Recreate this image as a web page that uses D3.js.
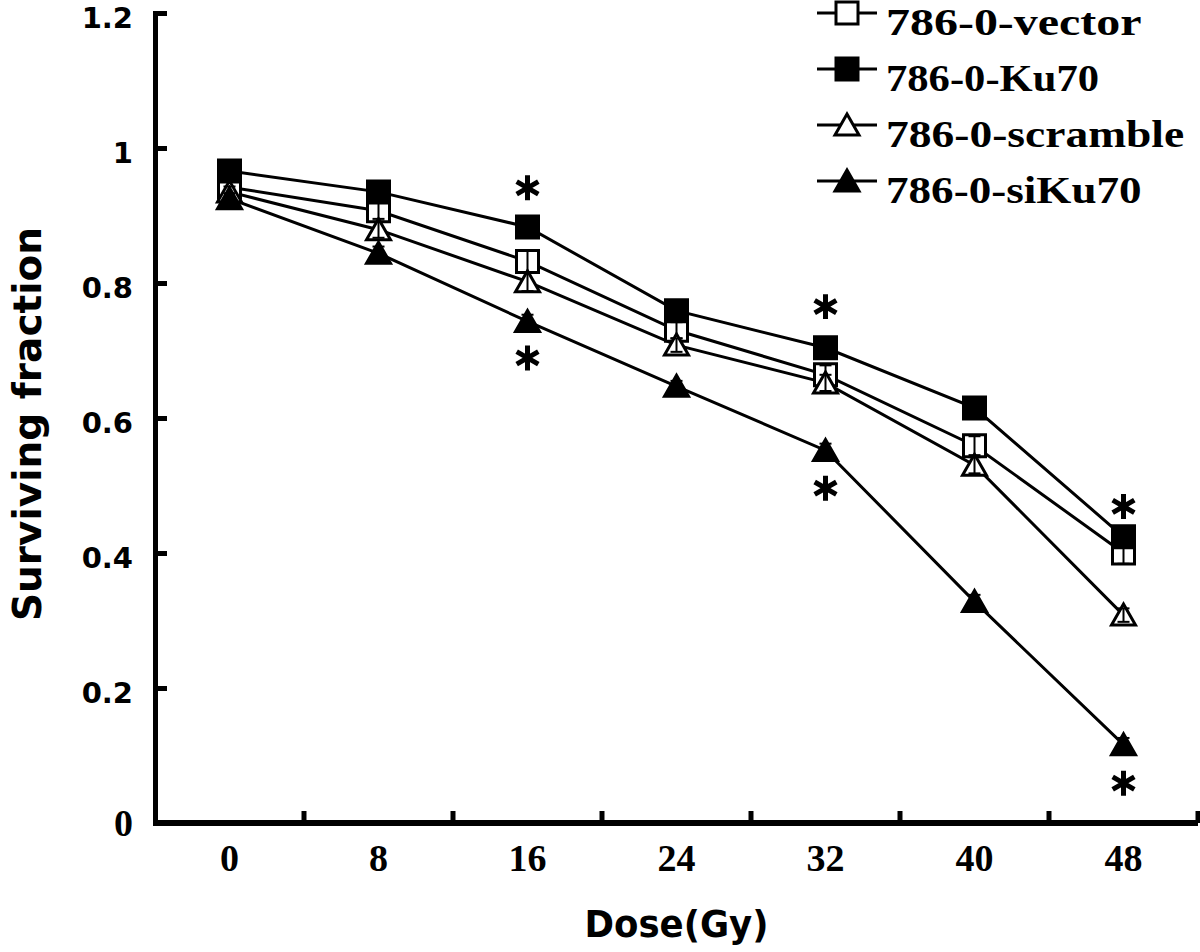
<!DOCTYPE html>
<html>
<head>
<meta charset="utf-8">
<script src="https://cdn.jsdelivr.net/npm/d3@7"></script>
<style>
  html, body { margin: 0; padding: 0; background: #fff; }
  svg { display: block; }
</style>
</head>
<body>
<svg id="chart" width="1200" height="952"></svg>
<script>
// ---------------- data ----------------
const doses = ["0", "8", "16", "24", "32", "40", "48"];
const seriesNames = ["786-0-vector", "786-0-Ku70", "786-0-scramble", "786-0-siKu70"];
const vectorValues   = [0.942, 0.907, 0.832, 0.730, 0.664, 0.559, 0.400];
const ku70Values     = [0.966, 0.935, 0.883, 0.759, 0.704, 0.615, 0.424];
const scrambleValues = [0.935, 0.879, 0.802, 0.708, 0.652, 0.530, 0.308];
const siKu70Values   = [0.925, 0.844, 0.743, 0.647, 0.552, 0.328, 0.116];
const vectorErrors   = [0.010, 0.012, 0.016, 0.012, 0.014, 0.014, 0.016];
const ku70Errors     = [0.008, 0.008, 0.010, 0.010, 0.010, 0.010, 0.012];
const scrambleErrors = [0.008, 0.012, 0.014, 0.010, 0.012, 0.012, 0.010];
const siKu70Errors   = [0.008, 0.010, 0.010, 0.008, 0.010, 0.010, 0.010];
const yTickValues = [0, 0.2, 0.4, 0.6, 0.8, 1, 1.2];
const yTickLabels = ["0", "0.2", "0.4", "0.6", "0.8", "1", "1.2"];
const asteriskDoses  = ["16", "16", "32", "32", "48", "48"];
const asteriskLevels = [0.941, 0.689, 0.765, 0.496, 0.469, 0.059];
const xTitle = "Dose(Gy)";
const yTitle = "Surviving fraction";

const seriesStyle = [
  { shape: "square",   filled: false },
  { shape: "square",   filled: true  },
  { shape: "triangle", filled: false },
  { shape: "triangle", filled: true  }
];
const seriesData = [
  { name: seriesNames[0], values: vectorValues,   errors: vectorErrors,   style: seriesStyle[0] },
  { name: seriesNames[1], values: ku70Values,     errors: ku70Errors,     style: seriesStyle[1] },
  { name: seriesNames[2], values: scrambleValues, errors: scrambleErrors, style: seriesStyle[2] },
  { name: seriesNames[3], values: siKu70Values,   errors: siKu70Errors,   style: seriesStyle[3] }
];

// ---------------- layout ----------------
const svg = d3.select("#chart");
const plotLeft = 155, plotRight = 1198, plotTop = 13, plotBottom = 823;

const x = d3.scaleBand().domain(doses).range([plotLeft, plotRight]).padding(0);
const y = d3.scaleLinear().domain([0, 1.2]).range([plotBottom, plotTop]);
const cx = d => x(d) + x.bandwidth() / 2;

const sansBold = "'DejaVu Sans', Verdana, sans-serif";
const serifBold = "'Liberation Serif', 'Times New Roman', serif";

// ---------------- axes ----------------
const yAxis = d3.axisLeft(y)
  .tickValues(yTickValues)
  .tickFormat((d, i) => yTickLabels[i])
  .tickSizeInner(-12)
  .tickSizeOuter(0)
  .tickPadding(22);
const gy = svg.append("g").attr("transform", `translate(${plotLeft},0)`).call(yAxis);
gy.select(".domain").attr("stroke", "#000").attr("stroke-width", 5).attr("stroke-linecap", "square");
gy.selectAll(".tick line").attr("stroke", "#000").attr("stroke-width", 5);
gy.selectAll(".tick text")
  .attr("fill", "#000")
  .attr("font-weight", "bold")
  .attr("font-family", (d, i) => i === 0 ? serifBold : sansBold)
  .attr("font-size", (d, i) => i === 0 ? 38 : 29)
  .attr("dy", (d, i) => i === 0 ? 12 : 14);

const xAxis = d3.axisBottom(x).tickSize(0).tickPadding(0);
const gx = svg.append("g").attr("transform", `translate(0,${plotBottom})`).call(xAxis);
gx.select(".domain").remove();
gx.selectAll(".tick text")
  .attr("fill", "#000")
  .attr("font-family", serifBold)
  .attr("font-weight", "bold")
  .attr("font-size", 38)
  .attr("y", 48)
  .attr("dy", 0);
gx.append("line")
  .attr("x1", plotLeft).attr("x2", plotRight)
  .attr("y1", 0).attr("y2", 0)
  .attr("stroke", "#000").attr("stroke-width", 6);
gx.selectAll(".edge-tick")
  .data(doses)
  .join("line")
  .attr("class", "edge-tick")
  .attr("x1", d => x(d) + x.bandwidth())
  .attr("x2", d => x(d) + x.bandwidth())
  .attr("y1", 0).attr("y2", -12)
  .attr("stroke", "#000").attr("stroke-width", 5);

svg.append("text")
  .attr("x", (plotLeft + plotRight) / 2)
  .attr("y", 937)
  .attr("text-anchor", "middle")
  .attr("font-family", sansBold)
  .attr("font-weight", "bold")
  .attr("font-size", 38)
  .attr("textLength", 184)
  .attr("lengthAdjust", "spacingAndGlyphs")
  .text(xTitle);

svg.append("text")
  .attr("transform", `translate(41,${(plotTop + plotBottom) / 2 + 6}) rotate(-90)`)
  .attr("text-anchor", "middle")
  .attr("font-family", sansBold)
  .attr("font-weight", "bold")
  .attr("font-size", 39)
  .text(yTitle);

// ---------------- marks ----------------
function markerPath(shape) {
  if (shape === "square") return "M-11,-11H11V11H-11Z";
  return "M0,-11L12,10H-12Z";
}

const line = d3.line()
  .x((v, i) => cx(doses[i]))
  .y(v => y(v));

const gSeries = svg.append("g");
gSeries.selectAll(".series-line")
  .data(seriesData)
  .join("path")
  .attr("class", "series-line")
  .attr("d", s => line(s.values))
  .attr("fill", "none")
  .attr("stroke", "#000")
  .attr("stroke-width", 3);

seriesData.forEach(s => {
  const g = gSeries.append("g");
  g.selectAll("path.marker")
    .data(s.values)
    .join("path")
    .attr("class", "marker")
    .attr("transform", (v, i) => `translate(${cx(doses[i])},${y(v)})`)
    .attr("d", markerPath(s.style.shape))
    .attr("fill", s.style.filled ? "#000" : "#fff")
    .attr("stroke", "#000")
    .attr("stroke-width", 3);
  const eb = g.selectAll("g.err")
    .data(s.values.map((v, i) => ({ v, e: s.errors[i], d: doses[i] })))
    .join("g").attr("class", "err");
  eb.append("line")
    .attr("x1", d => cx(d.d)).attr("x2", d => cx(d.d))
    .attr("y1", d => y(d.v - d.e)).attr("y2", d => y(d.v + d.e))
    .attr("stroke", "#000").attr("stroke-width", 2);
  eb.append("line")
    .attr("x1", d => cx(d.d) - 6).attr("x2", d => cx(d.d) + 6)
    .attr("y1", d => y(d.v + d.e)).attr("y2", d => y(d.v + d.e))
    .attr("stroke", "#000").attr("stroke-width", 2);
  eb.append("line")
    .attr("x1", d => cx(d.d) - 6).attr("x2", d => cx(d.d) + 6)
    .attr("y1", d => y(d.v - d.e)).attr("y2", d => y(d.v - d.e))
    .attr("stroke", "#000").attr("stroke-width", 2);
});

const asteriskSymbol = d3.symbol().type(d3.symbolAsterisk).size(440);
svg.append("g").selectAll("path")
  .data(asteriskDoses.map((d, i) => ({ d, v: asteriskLevels[i] })))
  .join("path")
  .attr("transform", a => `translate(${cx(a.d)},${y(a.v)})`)
  .attr("d", asteriskSymbol())
  .attr("fill", "none")
  .attr("stroke", "#000")
  .attr("stroke-width", 5);

// ---------------- legend ----------------
const legend = svg.append("g");
const legendRows = legend.selectAll("g")
  .data(seriesData)
  .join("g")
  .attr("transform", (s, i) => `translate(0,${13 + 56 * i})`);
legendRows.append("line")
  .attr("x1", 817).attr("x2", 877)
  .attr("y1", 0).attr("y2", 0)
  .attr("stroke", "#000").attr("stroke-width", 3);
legendRows.append("path")
  .attr("transform", "translate(847,0)")
  .attr("d", s => markerPath(s.style.shape))
  .attr("fill", s => s.style.filled ? "#000" : "#fff")
  .attr("stroke", "#000")
  .attr("stroke-width", 3);
legendRows.append("text")
  .attr("x", 886)
  .attr("y", 22)
  .attr("font-family", serifBold)
  .attr("font-weight", "bold")
  .attr("font-size", 38)
  .attr("textLength", s => 21.3 * s.name.length)
  .attr("lengthAdjust", "spacingAndGlyphs")
  .text(s => s.name);
</script>
</body>
</html>
